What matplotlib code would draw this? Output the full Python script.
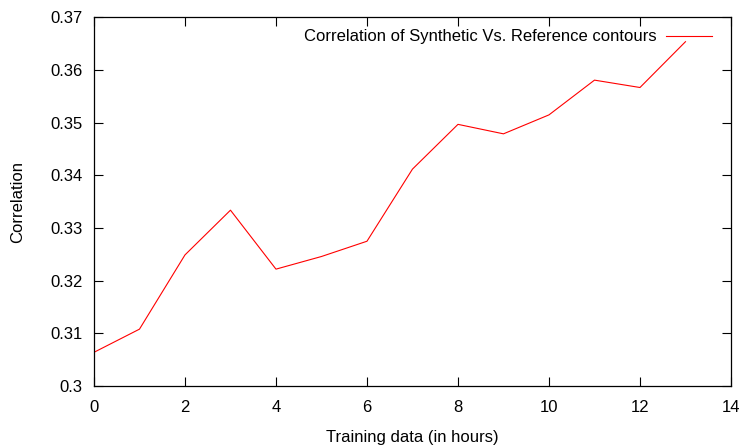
import matplotlib
matplotlib.use('Agg')
import matplotlib.pyplot as plt

# training hours vs correlation
hours = [0, 1, 2, 3, 4, 5, 6, 7, 8, 9, 10, 11, 12, 13]
correlation = [0.3064, 0.3108, 0.3249, 0.3334, 0.3222, 0.3246, 0.3275,
               0.3412, 0.3497, 0.3479, 0.3515, 0.3581, 0.3567, 0.3654]
x_ticks = [0, 2, 4, 6, 8, 10, 12, 14]
y_ticks = [0.3, 0.31, 0.32, 0.33, 0.34, 0.35, 0.36, 0.37]
y_tick_labels = ['0.3', '0.31', '0.32', '0.33', '0.34', '0.35', '0.36', '0.37']

plt.rcParams['font.family'] = ['Liberation Sans', 'DejaVu Sans']
plt.rcParams['font.size'] = 12

fig = plt.figure(figsize=(7.44, 4.46), dpi=100)
ax = fig.add_axes([0.1263, 0.1345, 0.9825 - 0.1263, 0.9608 - 0.1345])

ax.plot(hours, correlation, color='red', linewidth=0.8,
        label='Correlation of Synthetic Vs. Reference contours')

ax.set_xlim(0, 14)
ax.set_ylim(0.3, 0.37)
ax.set_xticks(x_ticks)
ax.set_yticks(y_ticks)
ax.set_xticklabels([str(t) for t in x_ticks])
ax.set_yticklabels(y_tick_labels)
ax.tick_params(direction='in', length=6.5, width=0.8, top=True, right=True,
               labelsize=12)
ax.tick_params(axis='x', pad=10)
ax.tick_params(axis='y', pad=8)
for s in ax.spines.values():
    s.set_linewidth(0.9)

ax.set_xlabel('Training data (in hours)', labelpad=11)
ax.set_ylabel('Correlation', labelpad=18)

leg = ax.legend(loc='upper right', bbox_to_anchor=(1.0, 1.019), frameon=False,
                markerfirst=False, handlelength=2.75, borderaxespad=0.74,
                handletextpad=0.6, fontsize=12)

fig.savefig('out.png', dpi=100)
